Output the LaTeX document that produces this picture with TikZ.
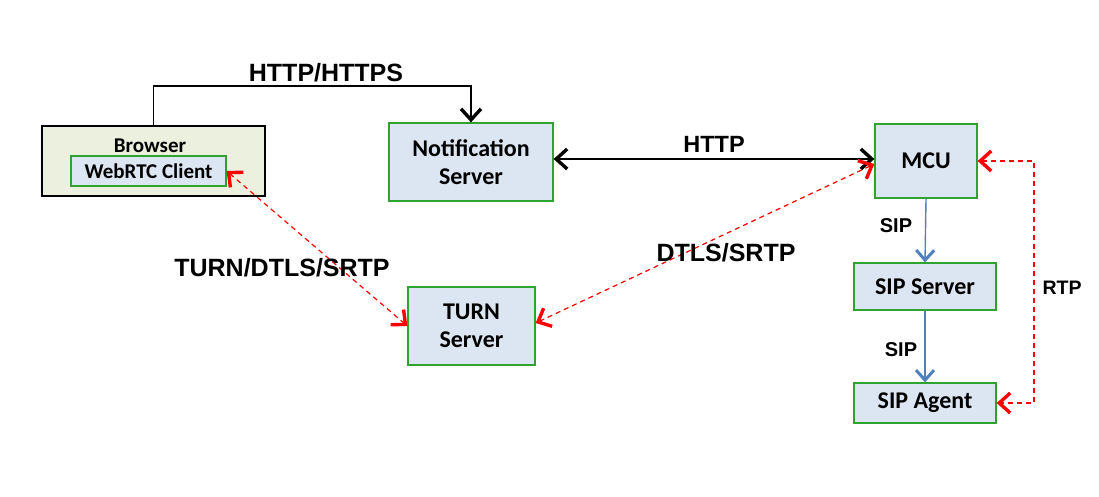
\documentclass[tikz,border=0pt]{standalone}
\usepackage{fontspec}
\setmainfont{Carlito}
\newfontfamily\arialb{Liberation Sans}[BoldFont={* Bold}]
\usetikzlibrary{arrows.meta}
\definecolor{boxfill}{HTML}{DCE6F2}
\definecolor{boxline}{HTML}{2EA32E}
\definecolor{brfill}{HTML}{EBF0DF}
\definecolor{sipblue}{HTML}{4F81BD}
\tikzset{
  srv/.style={draw=boxline, fill=boxfill, line width=1.3pt, inner sep=0pt, align=center, font=\fontsize{24}{28}\selectfont\bfseries},
  blk/.style={draw=black, line width=1.2pt},
  rdash/.style={draw=red, line width=1.2pt, dash pattern=on 5pt off 4pt},
  blu/.style={draw=sipblue, line width=1.4pt},
  lbl/.style={font=\arialb\bfseries\fontsize{25}{28}\selectfont, inner sep=0pt},
  slbl/.style={font=\arialb\bfseries\fontsize{20}{22}\selectfont, inner sep=0pt},
  bt/.tip={Straight Barb[length=11pt,width=20pt,line width=3.4pt]},
  bts/.tip={Straight Barb[length=10pt,width=18pt,line width=3pt]}
}
\begin{document}
\begin{tikzpicture}[x=1pt,y=-1pt]
\useasboundingbox (0,0) rectangle (1099,496);
\fill[white] (0,0) rectangle (1099,496);
% Browser
\node[draw=black, fill=brfill, line width=1.5pt, minimum width=223pt, minimum height=70pt, inner sep=0pt] (browser) at (153.5,161) {};
\node[font=\fontsize{21}{24}\selectfont\bfseries, inner sep=0pt] (browserlbl) at (150,146) {Browser};
\node[srv, minimum width=155pt, minimum height=30pt, font=\fontsize{21}{24}\selectfont\bfseries] (webrtc) at (148.5,171) {WebRTC Client};
% Servers
\node[srv, minimum width=164pt, minimum height=78pt] (notif) at (471,162) {Notification\\Server};
\node[srv, minimum width=127pt, minimum height=78pt] (turn) at (471.5,326) {TURN\\Server};
\node[srv, minimum width=102pt, minimum height=74pt] (mcu) at (926,161) {MCU};
\node[srv, minimum width=142pt, minimum height=47pt] (sipserver) at (925,286.5) {SIP Server};
\node[srv, minimum width=142pt, minimum height=40pt] (sipagent) at (925,403) {SIP Agent};
% HTTP/HTTPS
\coordinate (top) at (300,86);
\draw[blk, -bt] (browser.north) |- (top) -| (notif.north);
\node[lbl] (httpslbl) at (326,73) {HTTP/HTTPS};
% HTTP
\draw[blk, bt-bt] ([yshift=3pt]notif.east) -- ([yshift=2pt]mcu.west);
\node[lbl, font=\arialb\bfseries\fontsize{23.5}{26}\selectfont] (httplbl) at (714,144) {HTTP};
% Red dashed
\draw[rdash, bt-bt] (webrtc.east) -- (turn.west);
\node[lbl] (tdslbl) at (282,268) {TURN/DTLS/SRTP};
\draw[rdash, bt-bt] ([yshift=3pt]turn.east) -- ([yshift=-3pt]mcu.west);
\node[lbl] (dslbl) at (726,253) {DTLS/SRTP};
% SIP
\draw[blu, -bts] (mcu.south) -- (sipserver.north);
\node[slbl] (sip1) at (896,226) {SIP};
\draw[blu, -bts] (sipserver.south) -- (sipagent.north);
\node[slbl] (sip2) at (901,350) {SIP};
% RTP
\coordinate (rtpc) at (1034,161);
\draw[rdash, bt-bt] (mcu.east) -- (rtpc) |- (sipagent.east);
\node[slbl, font=\arialb\bfseries\fontsize{19.5}{22}\selectfont] (rtplbl) at (1062,288) {RTP};
\end{tikzpicture}
\end{document}
